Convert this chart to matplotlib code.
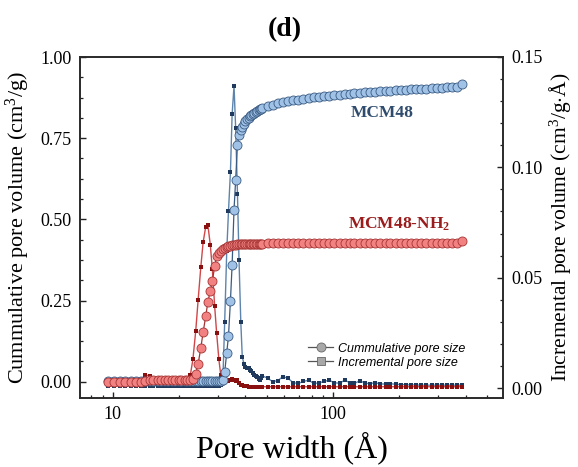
import matplotlib
matplotlib.use('Agg')
import matplotlib.pyplot as plt
from matplotlib.ticker import MultipleLocator, AutoMinorLocator, LogLocator, NullFormatter
from matplotlib.lines import Line2D

# pore width grid (Å)
pore_width = [
    9.5, 10.1, 10.8, 11.4, 12.1, 12.7, 13.4, 14.0, 14.7, 15.3,
    16.0, 16.6, 17.3, 17.9, 18.6, 19.2, 19.9, 20.5, 21.2, 21.8,
    22.5, 23.1, 23.8, 24.4, 25.1, 25.7, 26.4, 27.0, 27.7, 28.3,
    29.0, 29.6, 30.3, 30.9, 31.6, 32.2, 32.9, 33.5, 34.2, 34.8,
    35.5, 36.1, 36.8, 37.4, 38.1, 38.7, 39.4, 40.0, 40.7, 41.3,
    42.0, 42.6, 43.3, 43.9, 44.6, 45.2, 45.9, 46.5, 47.2, 47.8,
    50.4, 53.2, 56.1, 59.2, 62.5, 65.9, 69.5, 73.3, 77.4, 81.6,
    86.1, 90.9, 95.9, 101, 107, 113, 119, 125, 132, 140,
    147, 155, 164, 173, 182, 192, 203, 214, 226, 238,
    251, 265, 280, 295, 311, 328, 346, 365, 385]

# MCM48 cumulative pore volume (cm3/g)
mcm48_cum = [
    0.001, 0.001, 0.001, 0.001, 0.001, 0.001, 0.001, 0.001, 0.001, 0.001,
    0.001, 0.001, 0.001, 0.001, 0.001, 0.001, 0.001, 0.001, 0.001, 0.001,
    0.001, 0.001, 0.001, 0.001, 0.001, 0.001, 0.001, 0.001, 0.001, 0.001,
    0.001, 0.001, 0.001, 0.002, 0.005, 0.03, 0.09, 0.14, 0.25, 0.36,
    0.53, 0.62, 0.73, 0.76, 0.775, 0.785, 0.795, 0.802, 0.808, 0.813,
    0.818, 0.822, 0.826, 0.829, 0.832, 0.834, 0.837, 0.839, 0.841, 0.843,
    0.848, 0.853, 0.857, 0.861, 0.864, 0.867, 0.869, 0.872, 0.874, 0.876,
    0.878, 0.879, 0.881, 0.883, 0.884, 0.886, 0.887, 0.888, 0.889, 0.891,
    0.892, 0.893, 0.894, 0.895, 0.896, 0.897, 0.898, 0.899, 0.900, 0.901,
    0.902, 0.903, 0.904, 0.905, 0.906, 0.907, 0.908, 0.909, 0.918]

# MCM48 incremental pore volume (cm3/g.Å)
mcm48_inc = [
    0.001, 0.001, 0.001, 0.001, 0.001, 0.001, 0.001, 0.001, 0.001, 0.001,
    0.001, 0.001, 0.001, 0.001, 0.001, 0.001, 0.001, 0.001, 0.001, 0.001,
    0.001, 0.001, 0.001, 0.001, 0.001, 0.001, 0.001, 0.001, 0.001, 0.001,
    0.001, 0.001, 0.001, 0.0012, 0.004, 0.030, 0.062, 0.080, 0.098, 0.124,
    0.137, 0.118, 0.088, 0.058, 0.030, 0.014, 0.011, 0.0097, 0.0092, 0.0089,
    0.0083, 0.0078, 0.0068, 0.006, 0.0055, 0.005, 0.0042, 0.0036, 0.0045, 0.0055,
    0.0045, 0.0029, 0.0034, 0.0052, 0.0044, 0.0024, 0.0021, 0.0030, 0.0036, 0.0021,
    0.0023, 0.0030, 0.0036, 0.0024, 0.0022, 0.0036, 0.0024, 0.0021, 0.0033, 0.0022,
    0.0020, 0.0024, 0.0019, 0.0018, 0.0020, 0.0017, 0.0016, 0.0015, 0.0014, 0.0014,
    0.0013, 0.0013, 0.0013, 0.0013, 0.0013, 0.0013, 0.0013, 0.0013, 0.0013]

# MCM48-NH2 cumulative pore volume (cm3/g)
nh2_cum = [
    0.0, 0.0, 0.0, 0.0, 0.0, 0.0, 0.0, 0.002, 0.004, 0.004,
    0.004, 0.004, 0.004, 0.004, 0.004, 0.004, 0.004, 0.004, 0.004, 0.004,
    0.005, 0.008, 0.025, 0.055, 0.105, 0.152, 0.201, 0.245, 0.280, 0.310,
    0.355, 0.386, 0.397, 0.404, 0.409, 0.413, 0.416, 0.418, 0.419, 0.420,
    0.421, 0.422, 0.423, 0.424, 0.424, 0.425, 0.425, 0.425, 0.425, 0.425,
    0.425, 0.425, 0.425, 0.425, 0.425, 0.425, 0.425, 0.425, 0.425, 0.425,
    0.426, 0.426, 0.426, 0.426, 0.426, 0.426, 0.426, 0.426, 0.426, 0.426,
    0.427, 0.427, 0.427, 0.427, 0.427, 0.427, 0.427, 0.427, 0.427, 0.427,
    0.427, 0.427, 0.427, 0.427, 0.428, 0.428, 0.428, 0.428, 0.428, 0.428,
    0.428, 0.428, 0.428, 0.428, 0.428, 0.428, 0.428, 0.428, 0.432]

# MCM48-NH2 incremental pore volume (cm3/g.Å)
nh2_inc = [
    0.0023, 0.0023, 0.0022, 0.0023, 0.0024, 0.0024, 0.0026, 0.0060, 0.0055, 0.0035,
    0.0036, 0.0037, 0.0036, 0.0038, 0.0037, 0.0038, 0.0039, 0.0038, 0.0040, 0.0042,
    0.006, 0.013, 0.026, 0.040, 0.055, 0.066, 0.073, 0.074, 0.065, 0.054,
    0.037, 0.025, 0.013, 0.006, 0.0035, 0.0030, 0.0032, 0.0030, 0.0035, 0.0040,
    0.0036, 0.0033, 0.0038, 0.0024, 0.0016, 0.0012, 0.0009, 0.0008, 0.0008, 0.0007,
    0.0007, 0.0007, 0.0006, 0.0006, 0.0006, 0.0006, 0.0006, 0.0006, 0.0006, 0.0006,
    0.0006, 0.0006, 0.0006, 0.0006, 0.0006, 0.0006, 0.0006, 0.0006, 0.0006, 0.0006,
    0.0006, 0.0006, 0.0006, 0.0006, 0.0006, 0.0006, 0.0006, 0.0006, 0.0006, 0.0006,
    0.0006, 0.0006, 0.0006, 0.0006, 0.0006, 0.0006, 0.0006, 0.0006, 0.0006, 0.0006,
    0.0006, 0.0006, 0.0006, 0.0006, 0.0006, 0.0006, 0.0006, 0.0006, 0.0006]

# fonts: Times-like
plt.rcParams['font.family'] = ['Liberation Serif', 'DejaVu Serif']
plt.rcParams['mathtext.fontset'] = 'custom'
plt.rcParams['mathtext.rm'] = 'Liberation Serif'
plt.rcParams['mathtext.bf'] = 'Liberation Serif:bold'
plt.rcParams['mathtext.it'] = 'Liberation Serif:italic'

fig = plt.figure(figsize=(5.78, 4.67), dpi=100)
ax = fig.add_axes([80 / 578, 69 / 467, 423 / 578, 341 / 467])
ax.set_xscale('log')
ax2 = ax.twinx()

# cumulative on the left axis, drawn above the incremental curves
ax.set_zorder(ax2.get_zorder() + 1)
ax.patch.set_visible(False)

ax.plot(pore_width, mcm48_cum, '-o', color='#3b5b82', lw=0.9, ms=6.5,
        mfc='#9fc2e6', mec='#3b5b82', mew=0.6)
ax.plot(pore_width, nh2_cum, '-o', color='#a53434', lw=0.9, ms=6.5,
        mfc='#f28282', mec='#a53434', mew=0.6)

ax2.plot(pore_width, mcm48_inc, '-s', color='#5d84ad', lw=1.0, ms=3.2,
         mfc='#1f3a5c', mec='#1f3a5c', mew=0)
ax2.plot(pore_width, nh2_inc, '-s', color='#d0474a', lw=1.0, ms=3.2,
         mfc='#8a1010', mec='#8a1010', mew=0)

ax.set_xlim(7.1, 590)
ax.set_ylim(-0.05, 1.0)
ax2.set_ylim(-0.0045, 0.15)

ax.set_xticks([10, 100])
ax.set_xticklabels(['10', '100'])
ax.xaxis.set_minor_locator(LogLocator(base=10, subs=range(2, 10)))
ax.xaxis.set_minor_formatter(NullFormatter())
ax.yaxis.set_major_locator(MultipleLocator(0.25))
ax.yaxis.set_minor_locator(AutoMinorLocator(4))
ax.yaxis.set_major_formatter(plt.FormatStrFormatter('%.2f'))
ax2.yaxis.set_major_locator(MultipleLocator(0.05))
ax2.yaxis.set_minor_locator(MultipleLocator(0.01))
ax2.yaxis.set_major_formatter(plt.FormatStrFormatter('%.2f'))

for a in (ax, ax2):
    a.tick_params(which='major', direction='in', length=4.5, width=1.0,
                  labelsize=13, pad=6, color='#222222')
    a.tick_params(which='minor', direction='in', length=2.5, width=0.9,
                  color='#222222')
    for s in a.spines.values():
        s.set_linewidth(1.2)
        s.set_color('#2a2a2a')
ax.tick_params(axis='x', which='both', top=False)
ax2.tick_params(axis='x', which='both', top=False)

ax.set_xlabel('Pore width (Å)', fontsize=23, labelpad=6)
ax.set_ylabel('Cummulative pore volume (cm$^3$/g)', fontsize=16, labelpad=6)
ax2.set_ylabel('Incremental pore volume (cm$^3$/g$\\cdot$Å)', fontsize=15.5, labelpad=3)

ax.text(0.714, 0.836, 'MCM48', transform=ax.transAxes, fontsize=12.5,
        fontweight='bold', color='#2f4c6e', ha='center', va='center')
ax.text(0.754, 0.510, 'MCM48-NH$_\\mathbf{2}$', transform=ax.transAxes, fontsize=12.5,
        fontweight='bold', color='#9a1c1c', ha='center', va='center')

# legend with grey symbols
handles = [
    Line2D([], [], color='#555555', lw=0.9, marker='o', ms=6.5,
           mfc='#a8a8a8', mec='#666666', mew=0.6),
    Line2D([], [], color='#555555', lw=0.9, marker='s', ms=6,
           mfc='#a8a8a8', mec='#666666', mew=0.6),
]
ax.legend(handles, ['Cummulative pore size', 'Incremental pore size'],
          loc='upper left', bbox_to_anchor=(0.525, 0.18), frameon=False,
          prop={'family': 'Liberation Sans', 'style': 'italic', 'size': 9},
          handlelength=2.0, handletextpad=0.4, labelspacing=0.15, borderpad=0)

fig.text(285 / 578, 1 - 30 / 467, '(d)', fontsize=20, fontweight='bold',
         ha='center', va='center')

fig.savefig('out.png', dpi=100)
plt.close(fig)
